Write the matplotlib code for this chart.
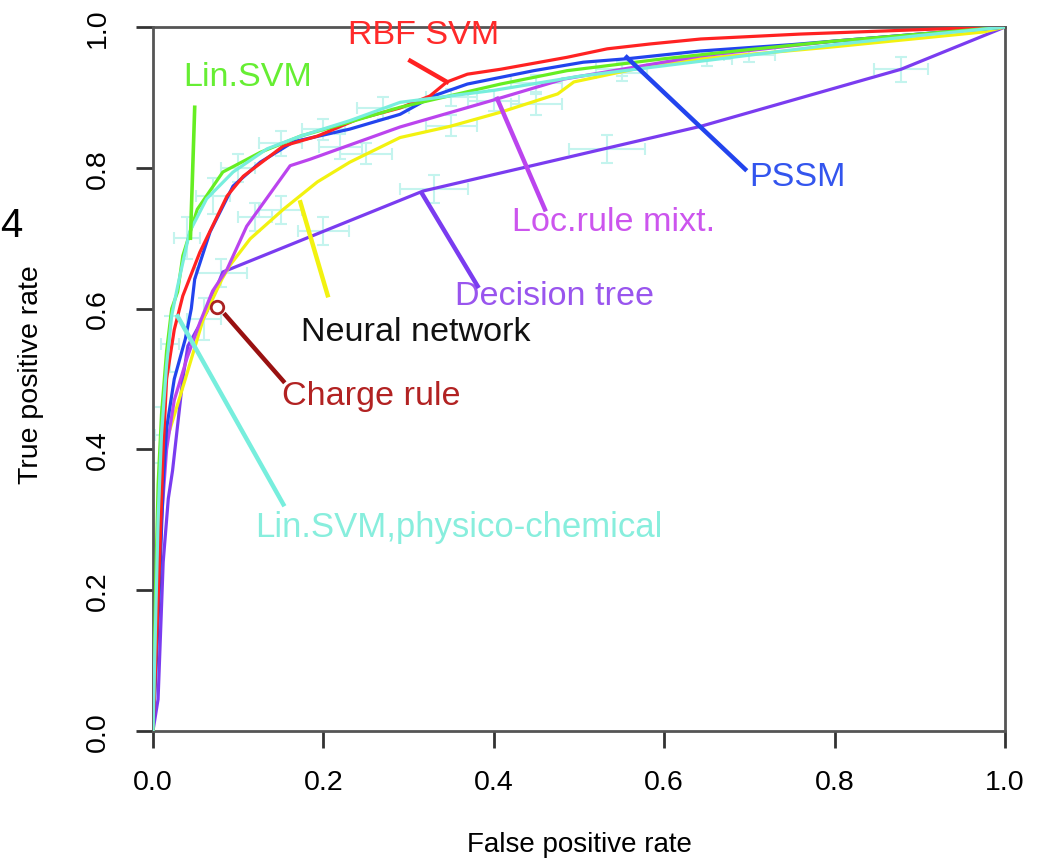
import matplotlib
matplotlib.use("Agg")
import matplotlib.pyplot as plt
import numpy as np

plt.rcParams['font.family'] = ['Liberation Sans', 'DejaVu Sans']

# ROC curves (false positive rate, true positive rate)
rbf_fpr = [0, 0.004, 0.008, 0.012, 0.016, 0.025, 0.035, 0.055, 0.087, 0.106, 0.153, 0.193, 0.24, 0.29,
           0.325, 0.345, 0.369, 0.408, 0.486, 0.533, 0.584, 0.643, 0.76, 0.917, 1.0]
rbf_tpr = [0, 0.12, 0.25, 0.40, 0.50, 0.57, 0.618, 0.68, 0.76, 0.788, 0.831, 0.845, 0.869, 0.885,
           0.902, 0.922, 0.933, 0.94, 0.957, 0.969, 0.976, 0.983, 0.99, 0.997, 1.0]

linsvm_fpr = [0, 0.003, 0.006, 0.01, 0.016, 0.022, 0.029, 0.035, 0.052, 0.082, 0.126, 0.173, 0.231,
              0.29, 0.408, 0.486, 0.6, 0.7, 0.8, 0.9, 1.0]
linsvm_tpr = [0, 0.2, 0.35, 0.45, 0.54, 0.6, 0.624, 0.675, 0.741, 0.794, 0.822, 0.845, 0.865,
              0.886, 0.919, 0.938, 0.955, 0.968, 0.98, 0.99, 1.0]

phys_fpr = [0, 0.003, 0.006, 0.01, 0.016, 0.022, 0.029, 0.043, 0.063, 0.094, 0.134, 0.173, 0.231,
            0.29, 0.4, 0.5, 0.6, 0.7, 0.8, 0.9, 1.0]
phys_tpr = [0, 0.15, 0.3, 0.42, 0.52, 0.59, 0.632, 0.709, 0.756, 0.794, 0.827, 0.845, 0.867,
            0.893, 0.91, 0.93, 0.945, 0.96, 0.975, 0.988, 1.0]

pssm_fpr = [0, 0.004, 0.008, 0.012, 0.016, 0.025, 0.038, 0.045, 0.049, 0.067, 0.094, 0.126, 0.165,
            0.231, 0.29, 0.329, 0.369, 0.447, 0.505, 0.557, 0.643, 0.75, 0.85, 0.95, 1.0]
pssm_tpr = [0, 0.1, 0.22, 0.35, 0.43, 0.5, 0.557, 0.6, 0.642, 0.709, 0.774, 0.808, 0.837,
            0.855, 0.876, 0.902, 0.919, 0.938, 0.95, 0.955, 0.966, 0.975, 0.985, 0.995, 1.0]

loc_fpr = [0, 0.005, 0.01, 0.016, 0.025, 0.04, 0.055, 0.07, 0.087, 0.11, 0.161, 0.184, 0.29,
           0.396, 0.482, 0.643, 0.8, 0.94, 1.0]
loc_tpr = [0, 0.15, 0.3, 0.4, 0.47, 0.53, 0.58, 0.625, 0.656, 0.717, 0.803, 0.812, 0.858,
           0.895, 0.926, 0.959, 0.98, 0.994, 1.0]

tree_fpr = [0, 0.006, 0.012, 0.018, 0.023, 0.035, 0.041, 0.063, 0.082, 0.317, 0.643, 0.878, 1.0]
tree_tpr = [0, 0.045, 0.24, 0.33, 0.37, 0.5, 0.547, 0.595, 0.652, 0.767, 0.859, 0.94, 1.0]

nn_fpr = [0, 0.003, 0.005, 0.008, 0.014, 0.038, 0.059, 0.081, 0.09, 0.114, 0.153, 0.193, 0.231,
          0.29, 0.349, 0.408, 0.475, 0.494, 0.564, 0.643, 0.8, 0.975, 1.0]
nn_tpr = [0, 0.12, 0.23, 0.348, 0.405, 0.5, 0.585, 0.642, 0.661, 0.699, 0.741, 0.78, 0.808,
          0.843, 0.859, 0.879, 0.905, 0.922, 0.94, 0.955, 0.972, 0.993, 1.0]

charge_point = (0.075, 0.602)

# light cyan error crosses (x, y, x half-width, y half-width)
eb_x = [0.08, 0.2, 0.33, 0.533, 0.878, 0.06, 0.15, 0.25, 0.35, 0.45, 0.55, 0.65,
        0.01, 0.02, 0.04, 0.07, 0.1, 0.15, 0.2, 0.27, 0.35, 0.45, 0.55, 0.7, 0.12, 0.22, 0.4]
eb_y = [0.65, 0.71, 0.77, 0.827, 0.94, 0.585, 0.74, 0.82, 0.86, 0.89, 0.935, 0.955,
        0.42, 0.55, 0.7, 0.76, 0.8, 0.835, 0.855, 0.885, 0.9, 0.92, 0.94, 0.96, 0.73, 0.83, 0.895]
eb_dx = [0.03, 0.03, 0.04, 0.045, 0.032, 0.02, 0.025, 0.03, 0.03, 0.03, 0.03, 0.03,
         0.008, 0.01, 0.015, 0.02, 0.02, 0.025, 0.025, 0.03, 0.03, 0.03, 0.03, 0.03, 0.02, 0.025, 0.03]
eb_dy = [0.02, 0.02, 0.02, 0.02, 0.018, 0.03, 0.02, 0.015, 0.015, 0.015, 0.012, 0.01,
         0.04, 0.04, 0.03, 0.025, 0.02, 0.018, 0.015, 0.015, 0.012, 0.012, 0.01, 0.01, 0.02, 0.018, 0.015]

fig = plt.figure(figsize=(10.37, 8.62), dpi=100)
ax = fig.add_axes([0.1475, 0.1508, 0.8217, 0.8167])

ax.errorbar(eb_x, eb_y, xerr=eb_dx, yerr=eb_dy, fmt='none', ecolor='#c4f4ee',
            elinewidth=1.5, capsize=4, capthick=1.5, zorder=1)

lw = 2.3
ax.plot(tree_fpr, tree_tpr, color='#7a3cf0', lw=lw, zorder=2)
ax.plot(nn_fpr, nn_tpr, color='#f2f210', lw=lw, zorder=2)
ax.plot(loc_fpr, loc_tpr, color='#bb44ee', lw=lw, zorder=2)
ax.plot(pssm_fpr, pssm_tpr, color='#2244ee', lw=lw, zorder=3)
ax.plot(rbf_fpr, rbf_tpr, color='#ff2222', lw=lw, zorder=3)
ax.plot(linsvm_fpr, linsvm_tpr, color='#66ee22', lw=lw, zorder=3)
ax.plot(phys_fpr, phys_tpr, color='#77eedd', lw=lw, zorder=3)
ax.plot([charge_point[0]], [charge_point[1]], 'o', mfc='white', mec='#aa2222', mew=2, ms=9, zorder=5)

# leader lines and labels
fs = 24.6
lead = 3.2
ax.plot([0.302, 0.345], [0.952, 0.922], color='#ff2222', lw=lead, zorder=4)
ax.text(0.318, 0.99, "RBF SVM", color='#ff2a2a', fontsize=fs, ha='center', va='center')
ax.plot([0.049, 0.044], [0.886, 0.70], color='#66ee22', lw=2.6, zorder=4)
ax.text(0.1115, 0.93, "Lin.SVM", color='#66ee33', fontsize=fs, ha='center', va='center')
ax.plot([0.556, 0.695], [0.957, 0.798], color='#2244ee', lw=lead, zorder=4)
ax.text(0.70, 0.787, "PSSM", color='#3355ee', fontsize=fs, ha='left', va='center')
ax.plot([0.404, 0.46], [0.898, 0.741], color='#bb44ee', lw=lead, zorder=4)
ax.text(0.421, 0.724, "Loc.rule mixt.", color='#cc55ee', fontsize=fs, ha='left', va='center')
ax.plot([0.316, 0.381], [0.763, 0.632], color='#7a3cf0', lw=lead, zorder=4)
ax.text(0.354, 0.619, "Decision tree", color='#9955ee', fontsize=fs, ha='left', va='center')
ax.plot([0.173, 0.205], [0.751, 0.619], color='#f2f210', lw=lead, zorder=4)
ax.text(0.174, 0.568, "Neural network", color='#111111', fontsize=fs, ha='left', va='center')
ax.plot([0.085, 0.153], [0.591, 0.497], color='#991111', lw=lead, zorder=4)
ax.text(0.151, 0.476, "Charge rule", color='#b22222', fontsize=fs, ha='left', va='center')
ax.plot([0.029, 0.153], [0.589, 0.322], color='#77eedd', lw=lead, zorder=4)
ax.text(0.12, 0.291, "Lin.SVM,physico-chemical", color='#88eedd', fontsize=25, ha='left', va='center')

ax.set_xlim(0, 1)
ax.set_ylim(0, 1)
ax.set_xticks([0, 0.2, 0.4, 0.6, 0.8, 1.0])
ax.set_yticks([0, 0.2, 0.4, 0.6, 0.8, 1.0])
ax.set_xticklabels(["0.0", "0.2", "0.4", "0.6", "0.8", "1.0"])
ax.set_yticklabels(["0.0", "0.2", "0.4", "0.6", "0.8", "1.0"], rotation=90, va='center')
ax.tick_params(axis='both', direction='out', length=12, width=2, color='#333333', labelsize=20.5)
ax.tick_params(axis='x', pad=15)
ax.tick_params(axis='y', pad=18.5)
for s in ax.spines.values():
    s.set_linewidth(2)
    s.set_color('#555555')

ax.set_xlabel("False positive rate", fontsize=20, va='center')
ax.xaxis.set_label_coords(0.501, -0.16)
ax.set_ylabel("True positive rate", fontsize=20.5, va='center')
ax.yaxis.set_label_coords(-0.143, 0.507)

fig.text(0.0, 0.725, "4", fontsize=29, ha='left', va='baseline')

fig.savefig("out.png", dpi=100)
